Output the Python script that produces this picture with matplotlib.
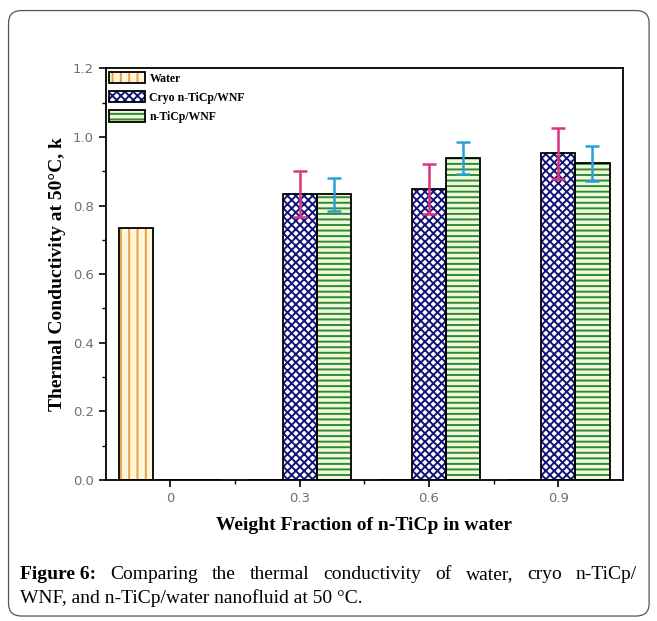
import numpy as np
import matplotlib
matplotlib.use("Agg")
import matplotlib.pyplot as plt
from matplotlib.patches import FancyBboxPatch
from matplotlib.legend_handler import HandlerTuple

# data
categories = ["0", "0.3", "0.6", "0.9"]
water = [0.734, 0, 0, 0]
cryo = [0, 0.833, 0.848, 0.952]
cryo_err = [0, 0.067, 0.073, 0.075]
ticp = [0, 0.833, 0.938, 0.923]
ticp_err = [0, 0.048, 0.047, 0.050]

series_names = ["Water", "Cryo n-TiCp/WNF", "n-TiCp/WNF"]

caption_bold = "Figure 6:"
caption_line1 = "Comparing the thermal conductivity of water, cryo n-TiCp/"
caption_line2 = "WNF, and n-TiCp/water nanofluid at 50 °C."

plt.rcParams["hatch.linewidth"] = 1.4

fig = plt.figure(figsize=(6.57, 6.21), dpi=100)
ax = fig.add_axes([0.161, 0.227, 0.787, 0.663])

x = np.arange(len(categories))
w = 0.265

styles = [
    dict(face="#fff6d8", hatch="||", hcolor="#ee9c45"),
    dict(face="#ffffff", hatch="xxxx", hcolor="#14147a"),
    dict(face="#eef8dc", hatch="---", hcolor="#2f8a2f"),
]
values = [water, cryo, ticp]
handles = []
for i, (vals, st) in enumerate(zip(values, styles)):
    pos = x + (i - 1) * w
    fill = ax.bar(pos, vals, w, color=st["face"], edgecolor=st["hcolor"],
                  hatch=st["hatch"], linewidth=0, zorder=2)
    edge = ax.bar(pos, vals, w, fill=False, edgecolor="black",
                  linewidth=1.3, zorder=3)
    handles.append((fill, edge))

# error bars only where a bar exists
for vals, errs, pos, col in [(cryo, cryo_err, x, "#d8357a"),
                             (ticp, ticp_err, x + w, "#2aa0da")]:
    vals = np.array(vals)
    errs = np.array(errs)
    m = vals > 0
    ax.errorbar(pos[m], vals[m], yerr=errs[m], fmt="none", ecolor=col,
                elinewidth=1.8, capsize=5, capthick=1.8, zorder=4)

ax.set_xlim(-0.5, 3.5)
ax.set_ylim(0, 1.2)
ax.set_xticks(x)
ax.set_xticklabels(categories)
ax.set_xticks(x[:-1] + 0.5, minor=True)
yt = np.arange(0, 1.21, 0.2)
ax.set_yticks(yt)
ax.set_yticklabels([f"{v:.1f}" for v in yt])
ax.set_yticks(np.arange(0.1, 1.2, 0.2), minor=True)
ax.tick_params(axis="both", which="major", direction="out", length=5,
               width=1.2, labelsize=9.5, labelcolor="#707070")
ax.tick_params(axis="both", which="minor", direction="out", length=3, width=1.0)
for s in ax.spines.values():
    s.set_linewidth(1.3)

serif = ["Liberation Serif", "DejaVu Serif"]
ax.set_ylabel("Thermal Conductivity at 50°C, k", family=serif,
              fontweight="bold", fontsize=14, labelpad=5)
ax.set_xlabel("Weight Fraction of n-TiCp in water", family=serif,
              fontweight="bold", fontsize=14, labelpad=9)

ax.legend(handles, series_names, loc="upper left", frameon=False,
          handler_map={tuple: HandlerTuple(ndivide=1)},
          prop={"family": serif, "weight": "bold", "size": 8.5},
          handlelength=3.0, handleheight=1.1, handletextpad=0.4,
          labelspacing=0.55, borderaxespad=0.1, borderpad=0.2)

# caption, first line justified to the right margin
cap_kw = dict(fontsize=14, family=serif, va="baseline")
left_px, right_px = 20, 637
y1, y2 = 1 - 579 / 621, 1 - 603 / 621
fig.canvas.draw()
renderer = fig.canvas.get_renderer()

words = [(caption_bold, "bold")] + [(wd, "normal") for wd in caption_line1.split()]
tmp = [fig.text(0, 0, wd, fontweight=wt, **cap_kw) for wd, wt in words]
widths = [t.get_window_extent(renderer).width for t in tmp]
for t in tmp:
    t.remove()
gap = (right_px - left_px - sum(widths)) / (len(words) - 1)
xpos = left_px
for (wd, wt), wdt in zip(words, widths):
    fig.text(xpos / 657, y1, wd, fontweight=wt, ha="left", **cap_kw)
    xpos += wdt + gap
fig.text(left_px / 657, y2, caption_line2, ha="left", **cap_kw)

# rounded frame around chart and caption
frame = FancyBboxPatch((0.013, 0.008), 0.975, 0.975,
                       boxstyle="round,pad=0,rounding_size=0.02",
                       transform=fig.transFigure, fill=False,
                       edgecolor="#555555", linewidth=0.9)
fig.add_artist(frame)

fig.savefig("out.png", dpi=100)
